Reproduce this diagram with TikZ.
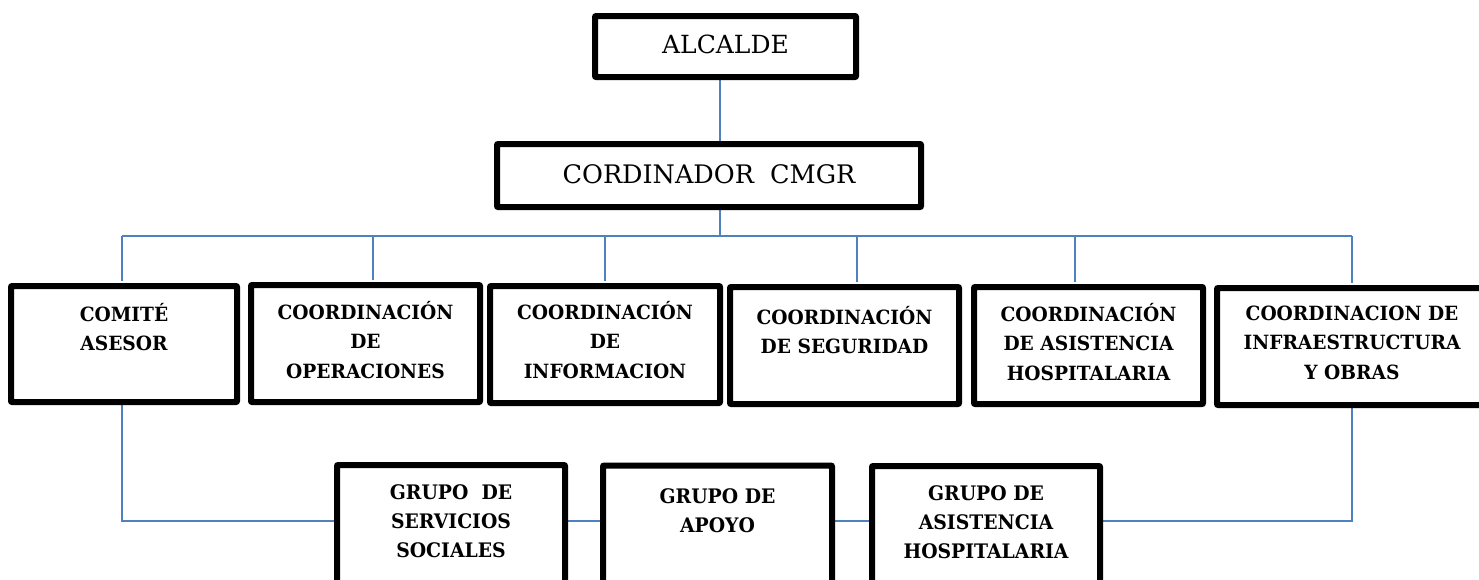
\documentclass[tikz,border=0pt]{standalone}
\usepackage{fontspec}
\setmainfont{DejaVu Serif}
\newfontfamily\condfont[FakeStretch=0.94]{DejaVu Serif}
\newfontfamily\midfont[FakeStretch=0.95]{DejaVu Serif}
\newcommand{\topstrut}{\rule{0pt}{20pt}}
\definecolor{linkblue}{HTML}{4F81BD}
\tikzset{
  boxnode/.style={draw=black, line width=4pt, rounded corners=2pt, fill=white, inner sep=0pt},
  conn/.style={draw=linkblue, line width=1.6pt},
  midtext/.style={anchor=north, align=center, inner sep=0pt, font=\midfont\bfseries\fontsize{19.6}{29.5}\selectfont},
  lowtext/.style={anchor=north, align=center, inner sep=0pt, font=\condfont\bfseries\fontsize{20}{29}\selectfont},
  toptext/.style={anchor=base, inner sep=0pt}
}
\begin{document}
\begin{tikzpicture}[x=1pt,y=-1pt]
\useasboundingbox (0,0) rectangle (1479,579);
\clip (0,0) rectangle (1479,579);
\fill[white] (0,0) rectangle (1479,579);

% coordinates
\coordinate (busx) at (720,236);
\coordinate (lowy) at (0,521);
\coordinate (d1) at (122,236);
\coordinate (d2) at (373,236);
\coordinate (d3) at (605,236);
\coordinate (d4) at (857,236);
\coordinate (d5) at (1075,236);
\coordinate (d6) at (1352,236);

% boxes
\node[boxnode, minimum width=259pt, minimum height=59pt] (alc) at (725.5,46.5) {};
\node[boxnode, minimum width=422pt, minimum height=61pt] (cor) at (709,175.5) {};

\node[boxnode, minimum width=224pt, minimum height=114pt] (c1) at (124,344) {};
\node[boxnode, minimum width=227pt, minimum height=115pt] (c2) at (365.5,343.5) {};
\node[boxnode, minimum width=228pt, minimum height=115pt] (c3) at (605,344.5) {};
\node[boxnode, minimum width=227pt, minimum height=115pt] (c4) at (844.5,345.5) {};
\node[boxnode, minimum width=227pt, minimum height=115pt] (c5) at (1088.5,345.5) {};
\node[boxnode, minimum width=268pt, minimum height=115pt] (c6) at (1352,346.5) {};

\node[boxnode, minimum width=226pt, minimum height=152pt] (s1) at (451,542) {};
\node[boxnode, minimum width=227pt, minimum height=152pt] (s2) at (717.5,542.5) {};
\node[boxnode, minimum width=226pt, minimum height=152pt] (s3) at (986,543) {};

% connectors
\draw[conn] (busx |- alc.south) -- (busx |- cor.north);
\draw[conn] (busx |- cor.south) -- (busx);
\draw[conn] (d1) -- (d6);
\draw[conn, shorten >=4pt] (d1) -- (d1 |- c1.north);
\draw[conn, shorten >=4pt] (d2) -- (d2 |- c2.north);
\draw[conn, shorten >=4pt] (d3) -- (d3 |- c3.north);
\draw[conn, shorten >=4pt] (d4) -- (d4 |- c4.north);
\draw[conn, shorten >=4pt] (d5) -- (d5 |- c5.north);
\draw[conn, shorten >=4pt] (d6) -- (d6 |- c6.north);
\draw[conn] (d1 |- c1.south) |- (s1.west |- lowy);
\draw[conn] (s1.east |- lowy) -- (s2.west |- lowy);
\draw[conn] (s2.east |- lowy) -- (s3.west |- lowy);
\draw[conn] (d6 |- c6.south) |- (s3.east |- lowy);

% redraw box borders on top of connectors
\foreach \n in {alc,cor,c1,c2,c3,c4,c5,c6,s1,s2,s3}{
  \draw[line width=4pt, rounded corners=2pt] (\n.north west) rectangle (\n.south east);
}

% texts
\node[toptext, font=\fontsize{25}{30}\selectfont] (talc) at (725.5,53) {ALCALDE};
\node[toptext, font=\fontsize{25.5}{30}\selectfont] (tcor) at (709,183) {CORDINADOR\ \ CMGR};

\node[midtext] (tc1) at (124,301) {\topstrut COMITÉ\\ASESOR};
\node[midtext] (tc2) at (365.5,299) {\topstrut COORDINACIÓN\\DE\\OPERACIONES};
\node[midtext] (tc3) at (605,299) {\topstrut COORDINACIÓN\\DE\\INFORMACION};
\node[midtext] (tc4) at (844.5,304) {\topstrut COORDINACIÓN\\DE SEGURIDAD};
\node[midtext] (tc5) at (1088.5,301) {\topstrut COORDINACIÓN\\DE ASISTENCIA\\HOSPITALARIA};
\node[midtext] (tc6) at (1352,300) {\topstrut COORDINACION DE\\INFRAESTRUCTURA\\Y OBRAS};

\node[lowtext] (ts1) at (451,479) {\topstrut GRUPO\ \ DE\\SERVICIOS\\SOCIALES};
\node[lowtext] (ts2) at (717.5,483) {\topstrut GRUPO DE\\APOYO};
\node[lowtext] (ts3) at (986,480) {\topstrut GRUPO DE\\ASISTENCIA\\HOSPITALARIA};
\end{tikzpicture}
\end{document}
